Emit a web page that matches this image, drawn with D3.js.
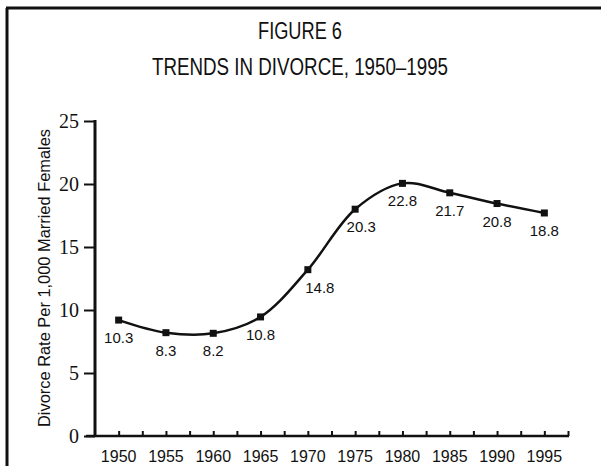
<!DOCTYPE html>
<html>
<head>
<meta charset="utf-8">
<script src="https://cdn.jsdelivr.net/npm/d3@7"></script>
<style>
  body { margin: 0; background: #fff; }
  svg { display: block; }
</style>
</head>
<body>
<svg id="chart" width="601" height="466"></svg>
<script>
// data
var years = [1950, 1955, 1960, 1965, 1970, 1975, 1980, 1985, 1990, 1995];
var plotted = [9.2, 8.2, 8.15, 9.45, 13.2, 18.0, 20.05, 19.3, 18.45, 17.7];
var printed = ['10.3', '8.3', '8.2', '10.8', '14.8', '20.3', '22.8', '21.7', '20.8', '18.8'];
var yTicks = [0, 5, 10, 15, 20, 25];
var xLabels = [1950, 1955, 1960, 1965, 1970, 1975, 1980, 1985, 1990, 1995];

var sans = '"Liberation Sans", Arial, sans-serif';
var serif = '"Liberation Serif", "Times New Roman", serif';

function frameSetup(svg) {
  svg.append('line')
    .attr('x1', 7).attr('y1', 8).attr('x2', 7).attr('y2', 466)
    .attr('stroke', '#111').attr('stroke-width', 3);
  svg.append('line')
    .attr('x1', 6).attr('y1', 8).attr('x2', 601).attr('y2', 8)
    .attr('stroke', '#111').attr('stroke-width', 3);
}

function titleSetup(svg) {
  // the original face is condensed, so squeeze the regular one
  svg.append('text')
    .attr('x', 300).attr('y', 39)
    .attr('text-anchor', 'middle')
    .attr('textLength', 84).attr('lengthAdjust', 'spacingAndGlyphs')
    .style('font-family', sans).style('font-size', '23px')
    .attr('fill', '#111')
    .text('FIGURE 6');
  svg.append('text')
    .attr('x', 300).attr('y', 75)
    .attr('text-anchor', 'middle')
    .attr('textLength', 296).attr('lengthAdjust', 'spacingAndGlyphs')
    .style('font-family', sans).style('font-size', '23px')
    .attr('fill', '#111')
    .text('TRENDS IN DIVORCE, 1950\u20131995');
}

function drawChart() {
  var svg = d3.select('#chart');
  frameSetup(svg);
  titleSetup(svg);

  var x = d3.scaleLinear().domain([1947.5, 1997.5]).range([95, 568]);
  var y = d3.scaleLinear().domain([0, 25]).range([436, 121]);

  // y axis
  var yAxis = svg.append('g').attr('transform', 'translate(95,0)')
    .call(d3.axisLeft(y).tickValues(yTicks).tickSize(11).tickPadding(5));
  yAxis.select('.domain').remove();
  yAxis.selectAll('line').attr('stroke', '#111').attr('stroke-width', 2);
  yAxis.selectAll('text')
    .style('font-family', serif).style('font-size', '20px').attr('fill', '#111');
  svg.append('line')
    .attr('x1', 95).attr('x2', 95).attr('y1', y(25) - 1).attr('y2', y(0) + 1)
    .attr('stroke', '#111').attr('stroke-width', 3);

  // x axis: minor ticks every 2.5 years pointing up
  var xAxis = svg.append('g').attr('transform', 'translate(0,' + y(0) + ')')
    .call(d3.axisTop(x).tickValues(d3.range(1950, 1998, 2.5)).tickSize(5).tickFormat(''));
  xAxis.select('.domain').remove();
  xAxis.selectAll('line').attr('stroke', '#111').attr('stroke-width', 2);
  svg.append('line')
    .attr('x1', 86).attr('x2', 569).attr('y1', y(0)).attr('y2', y(0))
    .attr('stroke', '#111').attr('stroke-width', 2.5);

  svg.append('g').selectAll('text')
    .data(xLabels).enter().append('text')
    .attr('x', function(d) { return x(d); })
    .attr('y', 462)
    .attr('text-anchor', 'middle')
    .style('font-family', sans).style('font-size', '16px')
    .attr('fill', '#111')
    .text(function(d) { return d; });

  // y axis title
  svg.append('text')
    .attr('transform', 'translate(50,278) rotate(-90)')
    .attr('text-anchor', 'middle')
    .attr('textLength', 298).attr('lengthAdjust', 'spacingAndGlyphs')
    .style('font-family', sans).style('font-size', '16px')
    .attr('fill', '#111')
    .text('Divorce Rate Per 1,000 Married Females');

  var pts = years.map(function(yr, i) {
    return { year: yr, value: plotted[i], label: printed[i] };
  });

  var line = d3.line()
    .x(function(d) { return x(d.year); })
    .y(function(d) { return y(d.value); })
    .curve(d3.curveCatmullRom.alpha(0.5));

  svg.append('path')
    .datum(pts)
    .attr('d', line)
    .attr('fill', 'none')
    .attr('stroke', '#111')
    .attr('stroke-width', 2.5);

  svg.append('g').selectAll('rect')
    .data(pts).enter().append('rect')
    .attr('x', function(d) { return x(d.year) - 3.5; })
    .attr('y', function(d) { return y(d.value) - 3.5; })
    .attr('width', 7).attr('height', 7)
    .attr('fill', '#111');

  // printed values sit below each point; on the steep rise they shift right
  svg.append('g').selectAll('text')
    .data(pts).enter().append('text')
    .attr('x', function(d) {
      var dx = d.year === 1970 ? 12 : (d.year === 1975 ? 6 : 0);
      return x(d.year) + dx;
    })
    .attr('y', function(d) { return y(d.value) + 23; })
    .attr('text-anchor', 'middle')
    .style('font-family', sans).style('font-size', '15px')
    .attr('fill', '#111')
    .text(function(d) { return d.label; });
}

drawChart();
</script>
</body>
</html>
